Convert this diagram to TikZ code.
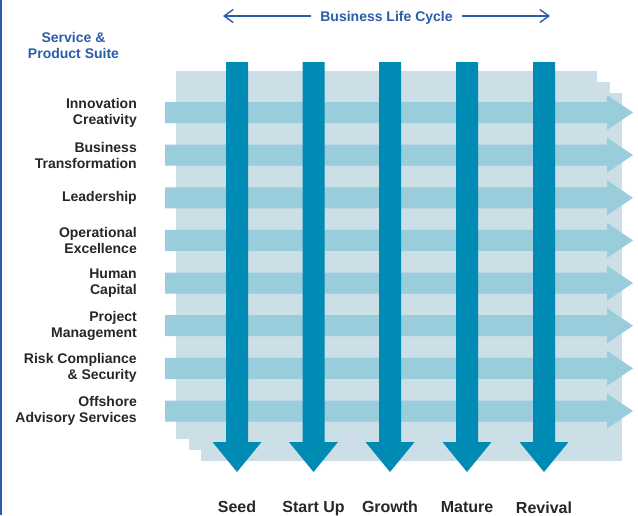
\documentclass[tikz,border=0pt]{standalone}
\usepackage{fontspec}
\setmainfont{Liberation Sans}
\usepackage{xcolor}
\usetikzlibrary{positioning,arrows.meta,calc}
\definecolor{fundo}{HTML}{CCDEE6}
\definecolor{setaclara}{HTML}{99CDDB}
\definecolor{setaescura}{HTML}{008BB5}
\definecolor{azultexto}{HTML}{2A5CA8}
\definecolor{cinzatexto}{HTML}{262626}
\tikzset{
    rotulo/.style={anchor=east,align=right,inner sep=0pt,text=cinzatexto,font=\bfseries\fontsize{14}{16}\selectfont},
    fase/.style={anchor=base,inner sep=0pt,text=cinzatexto,font=\bfseries\fontsize{16}{18}\selectfont},
    titulo/.style={inner sep=0pt,text=azultexto,font=\bfseries\fontsize{14}{16}\selectfont}
}

\begin{document}
\begin{tikzpicture}[x=1pt,y=-1pt]
    \useasboundingbox (0,0) rectangle (638,515);
    % Borda esquerda
    \draw[azultexto,line width=1.8pt] (0.9,0) -- (0.9,515);
    % Fundo em camadas
    \foreach \dx/\dy in {0/0,13/11,25/22} {\fill[fundo] (176+\dx,71+\dy) rectangle (597+\dx,439+\dy);}
    % Setas horizontais (servicos) e rotulos
    \foreach \y/\nome/\txt in {112.5/inov/Innovation\\Creativity,
                               155.1/trans/Business\\Transformation,
                               197.8/lider/Leadership,
                               240.4/oper/Operational\\Excellence,
                               283.1/humano/Human\\Capital,
                               325.7/proj/Project\\Management,
                               368.3/risco/Risk Compliance\\\& Security,
                               411/offshore/Offshore\\Advisory Services} {
        \fill[setaclara] (165,\y-10.5) -- (607,\y-10.5) -- (607,\y-17.5) -- (633,\y)
            -- (607,\y+17.5) -- (607,\y+10.5) -- (165,\y+10.5) -- cycle;
        \node[rotulo] (\nome) at (137,\y) {\txt};
    }
    % Setas verticais (ciclo de vida) e fases
    \foreach \x/\nome/\txt/\b in {237/seed/Seed/512,313.5/startup/Start Up/512,390/growth/Growth/512,
                                  467/mature/Mature/512,544/revival/Revival/513} {
        \fill[setaescura] (\x-11,62) -- (\x+11,62) -- (\x+11,442) -- (\x+24.5,442) -- (\x,472)
            -- (\x-24.5,442) -- (\x-11,442) -- cycle;
        \node[fase] (\nome) at (\x,\b) {\txt};
    }
    % Titulos
    \node[titulo,align=center] (suite) at (73.5,45.5) {Service \&\\Product Suite};
    \node[titulo,anchor=base] (ciclo) at (386.5,21) {Business Life Cycle};
    \coordinate (ciclo ini) at (223,16);
    \coordinate (ciclo fim) at (550,16);
    \draw[azultexto,line width=1.4pt,-{Straight Barb[length=9pt,width=13pt]}] ([xshift=-9pt]ciclo ini -| ciclo.west) -- (ciclo ini);
    \draw[azultexto,line width=1.4pt,-{Straight Barb[length=9pt,width=13pt]}] ([xshift=9pt]ciclo fim -| ciclo.east) -- (ciclo fim);
\end{tikzpicture}
\end{document}
